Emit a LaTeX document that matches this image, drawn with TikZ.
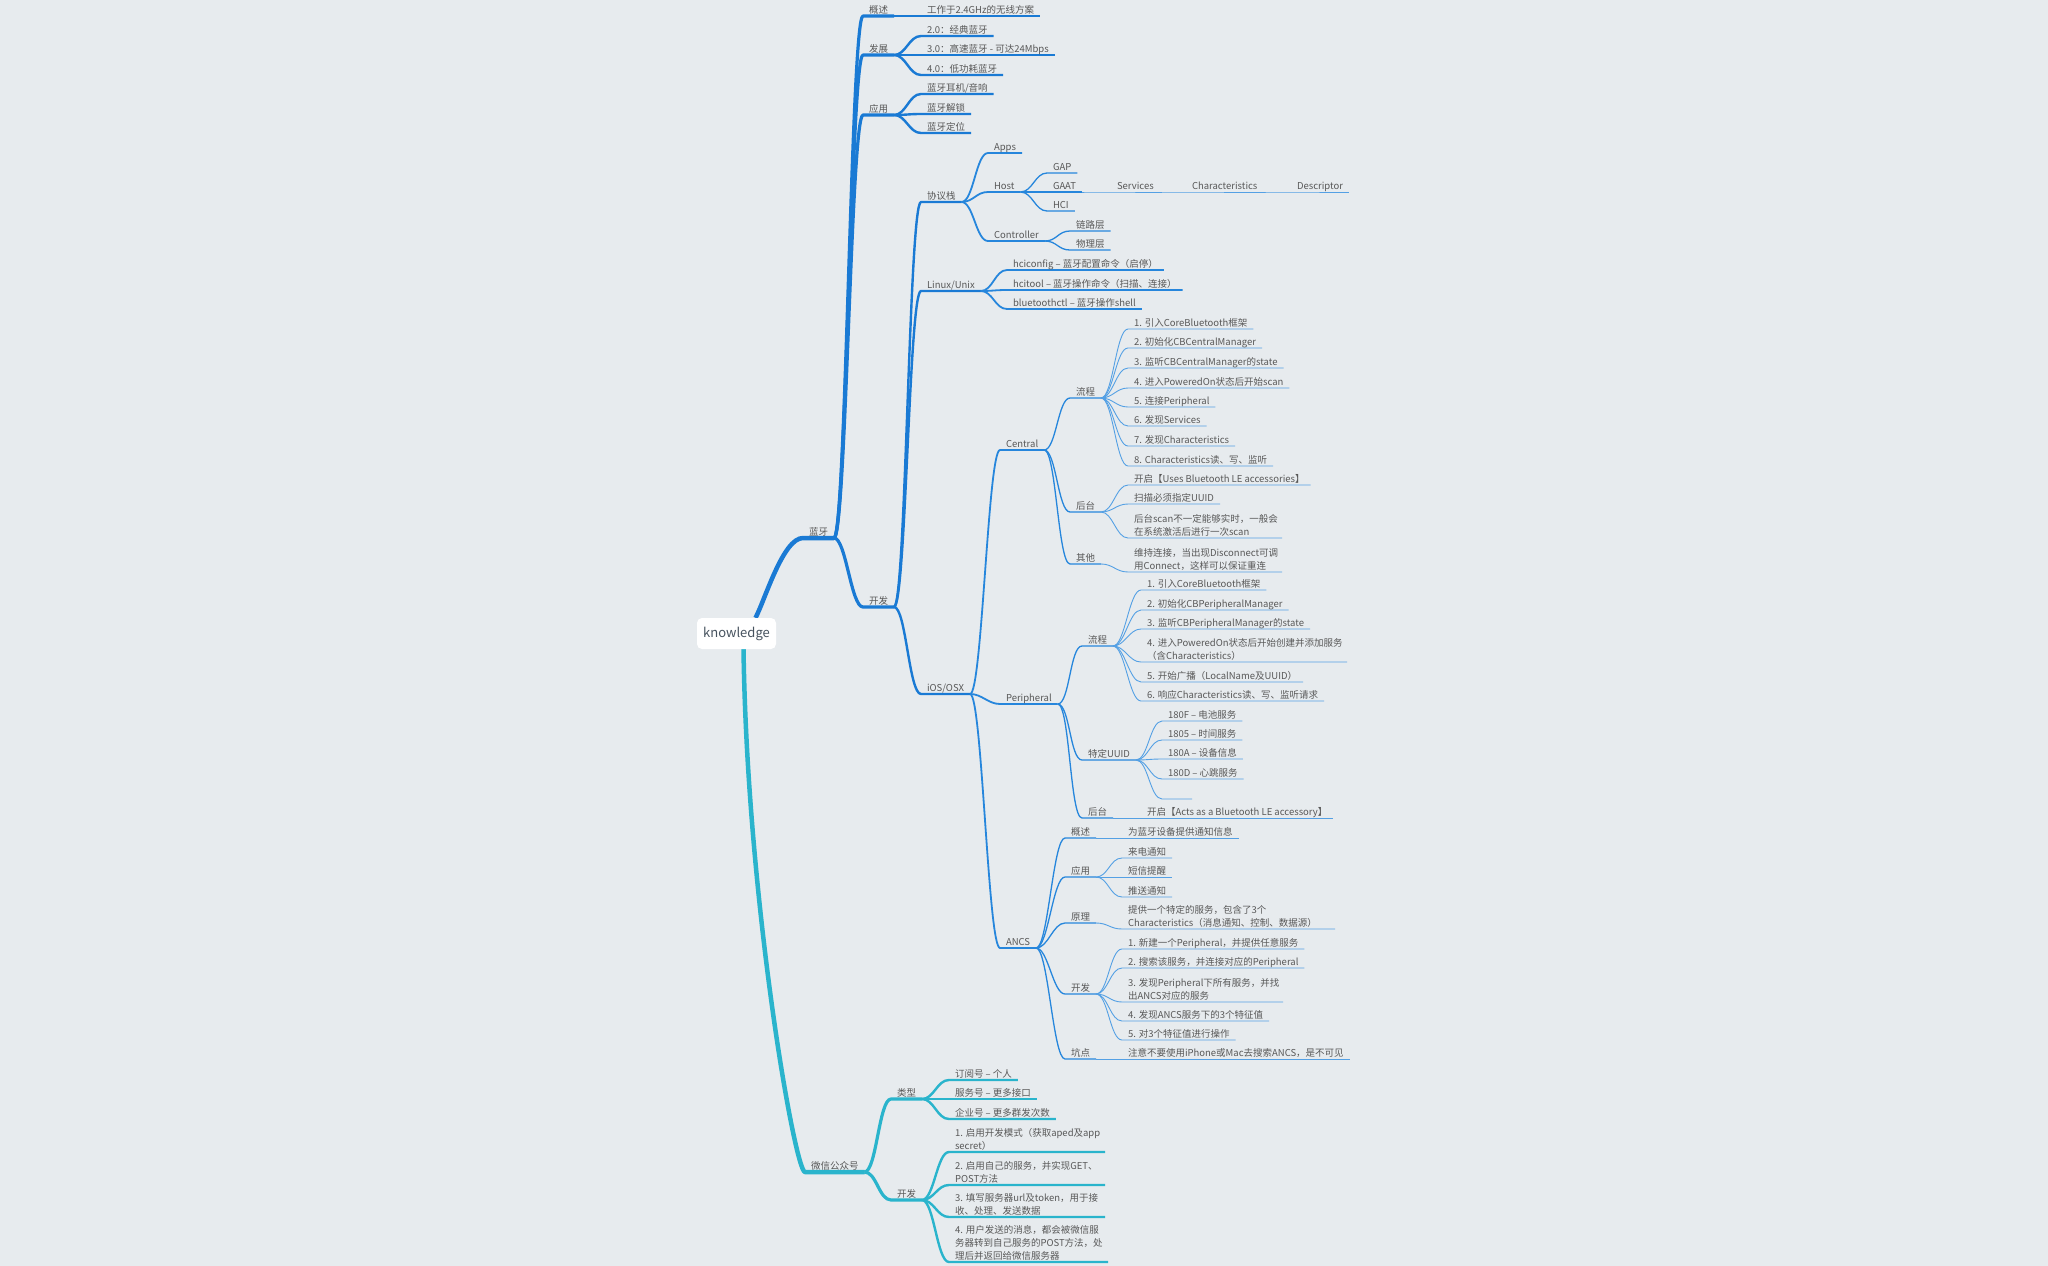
\documentclass[tikz,border=0pt]{standalone}
\usepackage{fontspec}
\setmainfont{Noto Sans CJK SC}
\usetikzlibrary{calc}
\definecolor{bgc}{RGB}{231,235,238}
\definecolor{blueA}{RGB}{26,122,212}
\definecolor{blueB}{RGB}{38,134,220}
\definecolor{blueC}{RGB}{84,160,228}
\definecolor{tealA}{RGB}{42,180,204}
\definecolor{txtc}{RGB}{88,88,88}
\definecolor{rootc}{RGB}{70,82,94}
\pgfdeclarelayer{back}\pgfdeclarelayer{lines}\pgfsetlayers{back,lines,main}
\newcommand\mmb[3]{\draw[#1] (#2.south east) to[cv] (#3.south west) -- (#3.south east);}
\newcommand\mml[2]{\parbox[b]{#1pt}{\raggedright #2}}
\newcommand\mmx[1]{\mbox{#1}}
\tikzset{
  t/.style={anchor=south west, inner xsep=6pt, inner ysep=0pt, outer sep=0pt,
    text depth=2.5pt, font=\fontsize{9.5}{13}\selectfont, text=txtc},
  cv/.style={to path={.. controls ($(\tikztostart)+(12,0)$) and ($(\tikztotarget)+(-12,0)$) .. (\tikztotarget)}},
  L1/.style={line width=4.5pt, draw=blueA, line join=round},
  L2/.style={line width=3.2pt, draw=blueA, line join=round},
  L3/.style={line width=2.4pt, draw=blueA, line join=round},
  L4/.style={line width=1.8pt, draw=blueB, line join=round},
  L5/.style={line width=1.3pt, draw=blueB, line join=round},
  L6/.style={line width=0.9pt, draw=blueC, line join=round},
  T1/.style={line width=4.5pt, draw=tealA, line join=round},
  T2/.style={line width=3.2pt, draw=tealA, line join=round},
  T3/.style={line width=2.4pt, draw=tealA, line join=round},
}
\begin{document}
\begin{tikzpicture}[x=1pt,y=-1pt]
\useasboundingbox (0,0) rectangle (2048,1266);
\begin{pgfonlayer}{back}
\fill[bgc] (0,0) rectangle (2048,1266);
\end{pgfonlayer}

\node[fill=white, rounded corners=5pt, minimum width=79pt, minimum height=31pt, inner sep=0pt,
  font=\fontsize{13}{13}\selectfont, text=rootc] (root) at (736.5,633.5) {knowledge};

\node[t] (lanya) at (803,538) {蓝牙};
\node[t] (gaishu) at (863,16) {概述};
\node[t] (g1) at (921,16) {工作于2.4GHz的无线方案};
\node[t] (fazhan) at (863,55) {发展};
\node[t] (f1) at (921,36) {2.0：经典蓝牙};
\node[t] (f2) at (921,55) {3.0：高速蓝牙 - 可达24Mbps};
\node[t] (f3) at (921,75) {4.0：低功耗蓝牙};
\node[t] (yingyong) at (863,115) {应用};
\node[t] (y1) at (921,94) {蓝牙耳机/音响};
\node[t] (y2) at (921,114) {蓝牙解锁};
\node[t] (y3) at (921,133) {蓝牙定位};
\node[t] (kaifa) at (863,607) {开发};
\node[t] (xieyi) at (921,202) {协议栈};
\node[t] (apps) at (988,153) {Apps};
\node[t] (host) at (988,192) {Host};
\node[t] (gap) at (1047,173) {GAP};
\node[t] (gaat) at (1047,192) {GAAT};
\node[t] (svc) at (1111,192) {Services};
\node[t] (chr) at (1186,192) {Characteristics};
\node[t] (dsc) at (1291,192) {Descriptor};
\node[t] (hci) at (1047,211) {HCI};
\node[t] (ctrl) at (988,241) {Controller};
\node[t] (ll) at (1070,231) {链路层};
\node[t] (wl) at (1070,250) {物理层};
\node[t] (linux) at (921,291) {Linux/Unix};
\node[t] (lx1) at (1007,270) {hciconfig – 蓝牙配置命令（启停）};
\node[t] (lx2) at (1007,290) {hcitool – 蓝牙操作命令（扫描、连接）};
\node[t] (lx3) at (1007,309) {bluetoothctl – 蓝牙操作shell};
\node[t] (ios) at (921,694) {iOS/OSX};
\node[t] (central) at (1000,450) {Central};
\node[t] (cflow) at (1070,398) {流程};
\node[t] (c1) at (1128,329) {1. 引入CoreBluetooth框架};
\node[t] (c2) at (1128,348) {2. 初始化CBCentralManager};
\node[t] (c3) at (1128,368) {3. 监听CBCentralManager的state};
\node[t] (c4) at (1128,388) {4. 进入PoweredOn状态后开始scan};
\node[t] (c5) at (1128,407) {5. 连接Peripheral};
\node[t] (c6) at (1128,426) {6. 发现Services};
\node[t] (c7) at (1128,446) {7. 发现Characteristics};
\node[t] (c8) at (1128,466) {8. Characteristics读、写、监听};
\node[t] (cbg) at (1070,512) {后台};
\node[t] (cb1) at (1128,485) {开启【Uses Bluetooth LE accessories】};
\node[t] (cb2) at (1128,504) {扫描必须指定UUID};
\node[t] (cb3) at (1128,538) {\mml{142}{\mmx{后台scan不一定能够实时，一般会}\\\mmx{在系统激活后进行一次scan}}};
\node[t] (cother) at (1070,564) {其他};
\node[t] (co1) at (1128,572) {\mml{142}{\mmx{维持连接，当出现Disconnect可调}\\\mmx{用Connect，这样可以保证重连}}};
\node[t] (periph) at (1000,704) {Peripheral};
\node[t] (pflow) at (1082,646) {流程};
\node[t] (p1) at (1141,590) {1. 引入CoreBluetooth框架};
\node[t] (p2) at (1141,610) {2. 初始化CBPeripheralManager};
\node[t] (p3) at (1141,629) {3. 监听CBPeripheralManager的state};
\node[t] (p4) at (1141,662) {\mml{194}{\mmx{4. 进入PoweredOn状态后开始创建并添加服务}\\\mmx{（含Characteristics）}}};
\node[t] (p5) at (1141,682) {5. 开始广播（LocalName及UUID）};
\node[t] (p6) at (1141,701) {6. 响应Characteristics读、写、监听请求};
\node[t] (puuid) at (1082,760) {特定UUID};
\node[t] (u1) at (1162,721) {180F – 电池服务};
\node[t] (u2) at (1162,740) {1805 – 时间服务};
\node[t] (u3) at (1162,759) {180A – 设备信息};
\node[t] (u4) at (1162,779) {180D – 心跳服务};
\node[t, minimum width=30pt] (u5) at (1162,799) {};
\node[t] (pbg) at (1082,818) {后台};
\node[t] (pb1) at (1141,818) {开启【Acts as a Bluetooth LE accessory】};
\node[t] (ancs) at (1000,948) {ANCS};
\node[t] (ag) at (1065,838) {概述};
\node[t] (ag1) at (1122,838) {为蓝牙设备提供通知信息};
\node[t] (aa) at (1065,877) {应用};
\node[t] (aa1) at (1122,858) {来电通知};
\node[t] (aa2) at (1122,877) {短信提醒};
\node[t] (aa3) at (1122,897) {推送通知};
\node[t] (ay) at (1065,923) {原理};
\node[t] (ay1) at (1122,929) {\mml{201}{\mmx{提供一个特定的服务，包含了3个}\\\mmx{Characteristics（消息通知、控制、数据源）}}};
\node[t] (ad) at (1065,994) {开发};
\node[t] (ad1) at (1122,949) {1. 新建一个Peripheral，并提供任意服务};
\node[t] (ad2) at (1122,968) {2. 搜索该服务，并连接对应的Peripheral};
\node[t] (ad3) at (1122,1002) {\mml{149}{\mmx{3. 发现Peripheral下所有服务，并找}\\\mmx{出ANCS对应的服务}}};
\node[t] (ad4) at (1122,1021) {4. 发现ANCS服务下的3个特征值};
\node[t] (ad5) at (1122,1040) {5. 对3个特征值进行操作};
\node[t] (ak) at (1065,1059) {坑点};
\node[t] (ak1) at (1122,1059) {注意不要使用iPhone或Mac去搜索ANCS，是不可见};
\node[t] (weixin) at (805,1172) {微信公众号};
\node[t] (wtype) at (891,1099) {类型};
\node[t] (wt1) at (949,1080) {订阅号 – 个人};
\node[t] (wt2) at (949,1099) {服务号 – 更多接口};
\node[t] (wt3) at (949,1119) {企业号 – 更多群发次数};
\node[t] (wdev) at (891,1200) {开发};
\node[t] (wd1) at (949,1152) {\mml{144}{\mmx{1. 启用开发模式（获取aped及app}\\\mmx{secret）}}};
\node[t] (wd2) at (949,1185) {\mml{144}{\mmx{2. 启用自己的服务，并实现GET、}\\\mmx{POST方法}}};
\node[t] (wd3) at (949,1217) {\mml{144}{\mmx{3. 填写服务器url及token，用于接}\\\mmx{收、处理、发送数据}}};
\node[t] (wd4) at (949,1262) {\mml{147}{\mmx{4. 用户发送的消息，都会被微信服}\\\mmx{务器转到自己服务的POST方法，处}\\\mmx{理后并返回给微信服务器}}};

\begin{pgfonlayer}{lines}
\draw[L1] ($(root.north)+(19,0)$) .. controls (765,600) and (783,538) .. (lanya.south west) -- (lanya.south east);
\draw[T1] ($(root.south)+(7,0)$) .. controls (747,900) and (795,1172) .. (weixin.south west) -- (weixin.south east);
\mmb{L2}{lanya}{gaishu}\mmb{L2}{lanya}{fazhan}\mmb{L2}{lanya}{yingyong}\mmb{L2}{lanya}{kaifa}
\mmb{L3}{gaishu}{g1}
\mmb{L3}{fazhan}{f1}\mmb{L3}{fazhan}{f2}\mmb{L3}{fazhan}{f3}
\mmb{L3}{yingyong}{y1}\mmb{L3}{yingyong}{y2}\mmb{L3}{yingyong}{y3}
\mmb{L3}{kaifa}{xieyi}\mmb{L3}{kaifa}{linux}\mmb{L3}{kaifa}{ios}
\mmb{L4}{xieyi}{apps}\mmb{L4}{xieyi}{host}\mmb{L4}{xieyi}{ctrl}
\mmb{L5}{host}{gap}\mmb{L5}{host}{gaat}\mmb{L5}{host}{hci}
\mmb{L6}{gaat}{svc}\mmb{L6}{svc}{chr}\mmb{L6}{chr}{dsc}
\mmb{L5}{ctrl}{ll}\mmb{L5}{ctrl}{wl}
\mmb{L4}{linux}{lx1}\mmb{L4}{linux}{lx2}\mmb{L4}{linux}{lx3}
\mmb{L4}{ios}{central}\mmb{L4}{ios}{periph}\mmb{L4}{ios}{ancs}
\mmb{L5}{central}{cflow}\mmb{L5}{central}{cbg}\mmb{L5}{central}{cother}
\foreach \n in {c1,c2,c3,c4,c5,c6,c7,c8} {\mmb{L6}{cflow}{\n}}
\mmb{L6}{cbg}{cb1}\mmb{L6}{cbg}{cb2}\mmb{L6}{cbg}{cb3}
\mmb{L6}{cother}{co1}
\mmb{L5}{periph}{pflow}\mmb{L5}{periph}{puuid}\mmb{L5}{periph}{pbg}
\foreach \n in {p1,p2,p3,p4,p5,p6} {\mmb{L6}{pflow}{\n}}
\foreach \n in {u1,u2,u3,u4,u5} {\mmb{L6}{puuid}{\n}}
\mmb{L6}{pbg}{pb1}
\mmb{L5}{ancs}{ag}\mmb{L5}{ancs}{aa}\mmb{L5}{ancs}{ay}\mmb{L5}{ancs}{ad}\mmb{L5}{ancs}{ak}
\mmb{L6}{ag}{ag1}
\mmb{L6}{aa}{aa1}\mmb{L6}{aa}{aa2}\mmb{L6}{aa}{aa3}
\mmb{L6}{ay}{ay1}
\foreach \n in {ad1,ad2,ad3,ad4,ad5} {\mmb{L6}{ad}{\n}}
\mmb{L6}{ak}{ak1}
\mmb{T2}{weixin}{wtype}\mmb{T2}{weixin}{wdev}
\mmb{T3}{wtype}{wt1}\mmb{T3}{wtype}{wt2}\mmb{T3}{wtype}{wt3}
\foreach \n in {wd1,wd2,wd3,wd4} {\mmb{T3}{wdev}{\n}}
\end{pgfonlayer}
\end{tikzpicture}
\end{document}
